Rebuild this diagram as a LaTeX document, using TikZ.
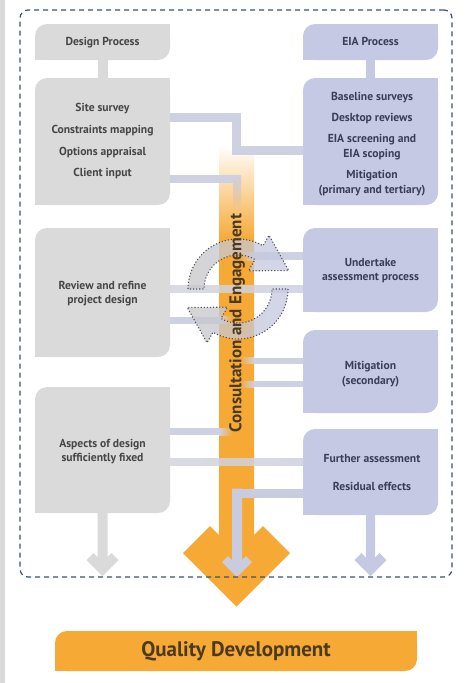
\documentclass[tikz,border=0pt]{standalone}
\usepackage{fontspec}
\setmainfont{PT Sans}
\definecolor{boxgray}{HTML}{DADADA}
\definecolor{boxblue}{HTML}{C5C9E4}
\definecolor{conn}{HTML}{CED1E2}
\definecolor{conng}{HTML}{D4D5DD}
\definecolor{orng}{HTML}{F6A935}
\definecolor{framec}{HTML}{3D5172}
\definecolor{txtg}{HTML}{464646}
\definecolor{txtb}{HTML}{3A3E56}
\definecolor{qdtext}{HTML}{4A3A22}
\definecolor{dotc}{HTML}{4F5058}
\definecolor{innerc}{HTML}{C9CCDF}
\definecolor{stripc}{HTML}{D9D9D9}
\newcommand\sqc[2]{\fill[#2] (#1.north east) rectangle ++(-12,12); \fill[#2] (#1.south west) rectangle ++(12,-12);}
\newcommand\chev[7]{\fill[#7] (#1-#6,#2) -- (#1-#6,#3-2*#5-#6) -- (#1-#4+#5,#3-#4-#5) -- (#1-#4,#3-#4) -- (#1,#3) -- (#1+#4,#3-#4) -- (#1+#4-#5,#3-#4-#5) -- (#1+#6,#3-2*#5-#6) -- (#1+#6,#2) -- cycle;}
\begin{document}
\begin{tikzpicture}[x=1pt, y=-1pt,
  gbox/.style={fill=boxgray, rounded corners=12pt, inner sep=0pt, minimum width=135pt, minimum height=#1},
  bbox/.style={fill=boxblue, rounded corners=12pt, inner sep=0pt, minimum width=135pt, minimum height=#1},
  lbl/.style={font=\bfseries\fontsize{11.6}{13}\selectfont, inner sep=0pt, text height=8.5pt, text depth=2.5pt},
  gt/.style={lbl, text=txtg},
  bt/.style={lbl, text=txtb},
  bar/.style={draw=conn, line width=#1, line join=miter, line cap=butt},
  cyc/.style={draw=dotc, line width=1.1pt, dotted, left color=black!22, right color=boxblue, fill opacity=0.75}
]
\useasboundingbox (0,0) rectangle (466,683);
\fill[white] (0,0) rectangle (466,683);
\fill[stripc] (0,0) rectangle (5,683);

% orange column
\shade[top color=white, bottom color=orng] (219,145) rectangle (254,240.5);
\chev{236.5}{240}{606.5}{53.5}{27}{17.5}{orng}

% boxes
\node[gbox=36pt] (dp) at (102.5,42) {};
\node[gbox=127pt] (db1) at (102.5,141.5) {};
\node[gbox=129pt] (db2) at (102.5,292.5) {};
\node[gbox=126pt] (db3) at (102.5,450) {};
\node[bbox=36pt] (ep) at (370.5,42) {};
\node[bbox=127pt] (eb1) at (370.5,141.5) {};
\node[bbox=84pt] (eb2) at (370.5,270) {};
\node[bbox=83pt] (eb3) at (370.5,371.5) {};
\node[bbox=86pt] (eb4) at (370.5,472) {};
\sqc{dp}{boxgray}\sqc{db1}{boxgray}\sqc{db2}{boxgray}\sqc{db3}{boxgray}
\sqc{ep}{boxblue}\sqc{eb1}{boxblue}\sqc{eb2}{boxblue}\sqc{eb3}{boxblue}\sqc{eb4}{boxblue}
\draw[line width=10pt, draw=boxgray] (dp.south) -- (db1.north);
\draw[line width=9pt, draw=boxblue] (ep.south) -- (eb1.north);

% connectors
\draw[bar=9pt] (db1.east |- 0,117.5) -- (236,117.5) -- (236,150) -- (eb1.west |- 0,150);
\draw[bar=8pt] (db1.east |- 0,179) -- (241,179);
\shade[top color=conn, bottom color=orng!70!white] (233,175) rectangle (241,214);
\draw[bar=8pt] (eb2.west |- 0,256) -- (254,256);
\shade[left color=orng, right color=conn] (240,252) rectangle (254,260);
\shade[left color=conng, right color=conn, fill opacity=0.85] (db2.east |- 0,285) rectangle (eb2.west |- 0,292);
\draw[bar=7pt] (db2.east |- 0,320) -- (219,320);
\shade[left color=conn, right color=orng] (219,316.5) rectangle (232,323.5);
\draw[bar=6pt] (eb3.west |- 0,360.5) -- (254,360.5);
\shade[left color=orng, right color=conn] (240,357.5) rectangle (254,363.5);
\draw[bar=6pt] (eb3.west |- 0,384) -- (254,384);
\shade[left color=orng, right color=conn] (240,381) rectangle (254,387);
\draw[bar=7pt] (db3.east |- 0,431.5) -- (219,431.5);
\shade[left color=conn, right color=orng] (219,428) rectangle (232,435);
\shade[left color=conng, right color=conn, fill opacity=0.85] (db3.east |- 0,458) rectangle (eb4.west |- 0,465);
\draw[bar=9pt, draw=innerc] (eb4.west |- 0,493) -- (232,493);
\chev{237}{488.5}{577}{15}{6}{5}{innerc}

% down arrows
\chev{102.5}{513}{576}{16}{7}{5}{boxgray}
\chev{370.5}{515}{576}{16}{7}{4.5}{boxblue}

% circular arrows
\draw[cyc] plot[domain=180:300, samples=30] ({238+50*cos(\x)},{289+50*sin(\x)})
  -- ({238+62*cos(300)},{289+62*sin(300)}) -- ({238+54*cos(340)},{289+54*sin(340)})
  -- ({238+21*cos(300)},{289+21*sin(300)})
  -- plot[domain=300:180, samples=30] ({238+34*cos(\x)},{289+34*sin(\x)}) -- cycle;
\draw[cyc] plot[domain=0:120, samples=30] ({238+50*cos(\x)},{289+50*sin(\x)})
  -- ({238+62*cos(120)},{289+62*sin(120)}) -- ({238+54*cos(160)},{289+54*sin(160)})
  -- ({238+21*cos(120)},{289+21*sin(120)})
  -- plot[domain=120:0, samples=30] ({238+34*cos(\x)},{289+34*sin(\x)}) -- cycle;

% texts
\node[gt] (t0) at (102.5,42) {Design Process};
\node[gt] (t1) at (102.5,108) {Site survey};
\node[gt] (t2) at (102.5,130) {Constraints mapping};
\node[gt] (t3) at (102.5,152) {Options appraisal};
\node[gt] (t4) at (102.5,173) {Client input};
\node[gt] (t5) at (102.5,286) {Review and refine};
\node[gt] (t6) at (102.5,300) {project design};
\node[gt] (t7) at (102.5,444) {Aspects of design};
\node[gt] (t8) at (102.5,458.5) {sufficiently fixed};
\node[bt] (s0) at (370.5,42) {EIA Process};
\node[bt] (s1) at (372,97) {Baseline surveys};
\node[bt] (s2) at (372,118) {Desktop reviews};
\node[bt] (s3) at (372,139) {EIA screening and};
\node[bt] (s4) at (372,154) {EIA scoping};
\node[bt] (s5) at (372,175) {Mitigation};
\node[bt] (s6) at (372,190) {(primary and tertiary)};
\node[bt] (s7) at (370.5,263) {Undertake};
\node[bt] (s8) at (370.5,277.5) {assessment process};
\node[bt] (s9) at (370.5,366) {Mitigation};
\node[bt] (s10) at (370.5,381) {(secondary)};
\node[bt] (s11) at (372,459) {Further assessment};
\node[bt] (s12) at (372,487) {Residual effects};
\node[rotate=90, font=\bfseries\fontsize{17}{19}\selectfont, text=qdtext, inner sep=0pt] (cons) at (237,323) {Consultation and Engagement};

% frame
\node[draw=framec, line width=1.2pt, dash pattern=on 5pt off 4pt, rounded corners=8pt, minimum width=432pt, minimum height=567pt, inner sep=0pt] (frm) at (236,293.5) {};

% quality development
\node[fill=orng, rounded corners=12pt, minimum width=362pt, minimum height=40pt, inner sep=0pt] (qd) at (236,651) {};
\sqc{qd}{orng}
\node[font=\bfseries\fontsize{21}{23}\selectfont, text=qdtext, inner sep=0pt] (qdt) at (236,651) {Quality Development};
\end{tikzpicture}
\end{document}
